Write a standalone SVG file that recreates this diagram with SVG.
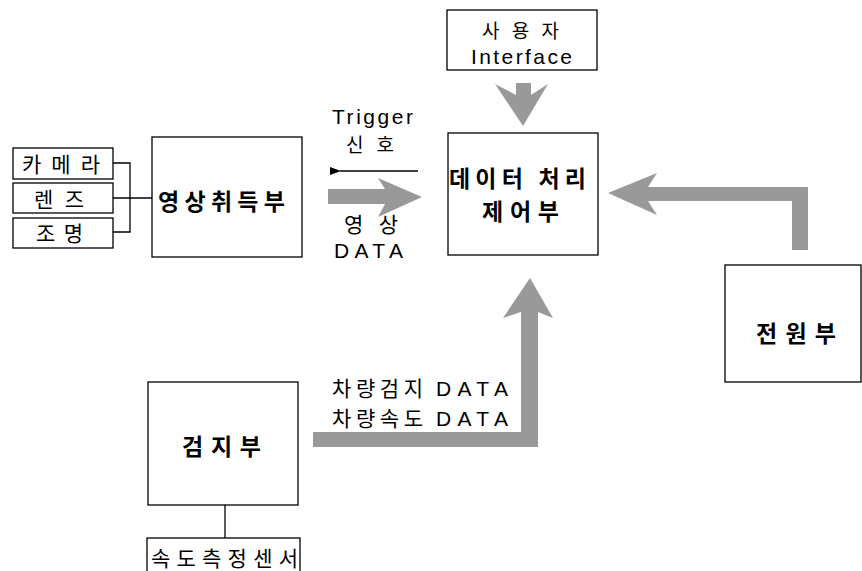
<svg xmlns="http://www.w3.org/2000/svg" width="862" height="571" viewBox="0 0 862 571">
  <style>
    .box { fill: #ffffff; stroke: #000000; stroke-width: 1.3; }
    .wire { fill: none; stroke: #000000; stroke-width: 1.3; }
    .flow { fill: #999999; stroke: none; }
    text { font-family: "Noto Sans CJK KR", "Noto Sans", sans-serif; fill: #000; }
    .title { font-size: 23px; font-weight: bold; }
    .label { font-size: 21px; }
    .tight { font-size: 19px; }
    .latin { font-family: "Liberation Sans", Arial, sans-serif; font-size: 21px; }
  </style>
  <defs>
    <marker id="tri" markerWidth="11" markerHeight="8" refX="1" refY="4" orient="auto" markerUnits="userSpaceOnUse">
      <path d="M0,4 L11,0 L11,8 Z" fill="#000"/>
    </marker>
  </defs>
  <rect width="862" height="571" fill="#ffffff"/>

  <!-- connectors -->
  <g id="connectors">
    <!-- camera / lens / light bus into image acquisition -->
    <polyline class="wire" points="113,163 130,163 130,232 113,232"/>
    <line class="wire" x1="113" y1="198" x2="152" y2="198"/>
    <!-- detector to speed sensor -->
    <line class="wire" x1="225" y1="505" x2="225" y2="538"/>
    <!-- trigger signal -->
    <line class="wire" x1="418" y1="171" x2="340" y2="171" marker-end="url(#tri)"/>
    <!-- user interface down into processor -->
    <polygon class="flow" points="516,83 531,83 531,95 548,84 523,126 495,84 516,95"/>
    <!-- image data into processor -->
    <polygon class="flow" points="328,189 385,189 378,178 422,197 378,217 385,204 328,204"/>
    <!-- power supply into processor -->
    <polygon class="flow" points="808,187 808,250 792,250 792,201 648,201 657,215 608,193 657,173 648,187"/>
    <!-- detector data into processor -->
    <polygon class="flow" points="313,432 521,432 521,312 503,318 530,278 553,318 538,312 538,447 313,447"/>
  </g>

  <g id="camera">
    <rect class="box" x="13" y="148" width="100" height="31"/>
    <text class="label" x="22" y="172" textLength="78" lengthAdjust="spacing">카메라</text>
  </g>
  <g id="lens">
    <rect class="box" x="13" y="183" width="100" height="30"/>
    <text class="label" x="34" y="207" textLength="50" lengthAdjust="spacing">렌즈</text>
  </g>
  <g id="light">
    <rect class="box" x="13" y="218" width="100" height="30"/>
    <text class="label" x="36" y="241" textLength="47" lengthAdjust="spacing">조명</text>
  </g>
  <g id="image-acquisition">
    <rect class="box" x="152" y="137" width="150" height="120"/>
    <text class="title" x="158" y="210" textLength="127" lengthAdjust="spacing">영상취득부</text>
  </g>
  <g id="user-interface">
    <rect class="box" x="447" y="10" width="150" height="60"/>
    <text class="label tight" x="482" y="38" textLength="77" lengthAdjust="spacing">사용자</text>
    <text class="latin" x="471" y="64" textLength="101" lengthAdjust="spacing">Interface</text>
  </g>
  <g id="data-processor">
    <rect class="box" x="448" y="133" width="150" height="122"/>
    <text class="title" x="449" y="187" textLength="137" lengthAdjust="spacing">데이터 처리</text>
    <text class="title" x="482" y="220" textLength="77" lengthAdjust="spacing">제어부</text>
  </g>
  <g id="power">
    <rect class="box" x="725" y="265" width="136" height="117"/>
    <text class="title" x="756" y="342" textLength="80" lengthAdjust="spacing">전원부</text>
  </g>
  <g id="detector">
    <rect class="box" x="148" y="382" width="150" height="123"/>
    <text class="title" x="182" y="455" textLength="79" lengthAdjust="spacing">검지부</text>
  </g>
  <g id="speed-sensor">
    <rect class="box" x="147" y="538" width="153" height="40"/>
    <text class="label" x="151" y="566" textLength="147" lengthAdjust="spacing">속도측정센서</text>
  </g>

  <g id="labels">
    <text class="latin" x="332" y="124" textLength="81" lengthAdjust="spacing">Trigger</text>
    <text class="label tight" x="346" y="152" textLength="48" lengthAdjust="spacing">신호</text>
    <text class="label" x="344" y="232" textLength="54" lengthAdjust="spacing">영상</text>
    <text class="latin" x="334" y="258" textLength="69" lengthAdjust="spacing">DATA</text>
    <text class="label" x="332" y="396" textLength="91" lengthAdjust="spacing">차량검지</text>
    <text class="latin" x="436" y="396" textLength="72" lengthAdjust="spacing">DATA</text>
    <text class="label" x="332" y="426" textLength="91" lengthAdjust="spacing">차량속도</text>
    <text class="latin" x="436" y="426" textLength="72" lengthAdjust="spacing">DATA</text>
  </g>
</svg>
